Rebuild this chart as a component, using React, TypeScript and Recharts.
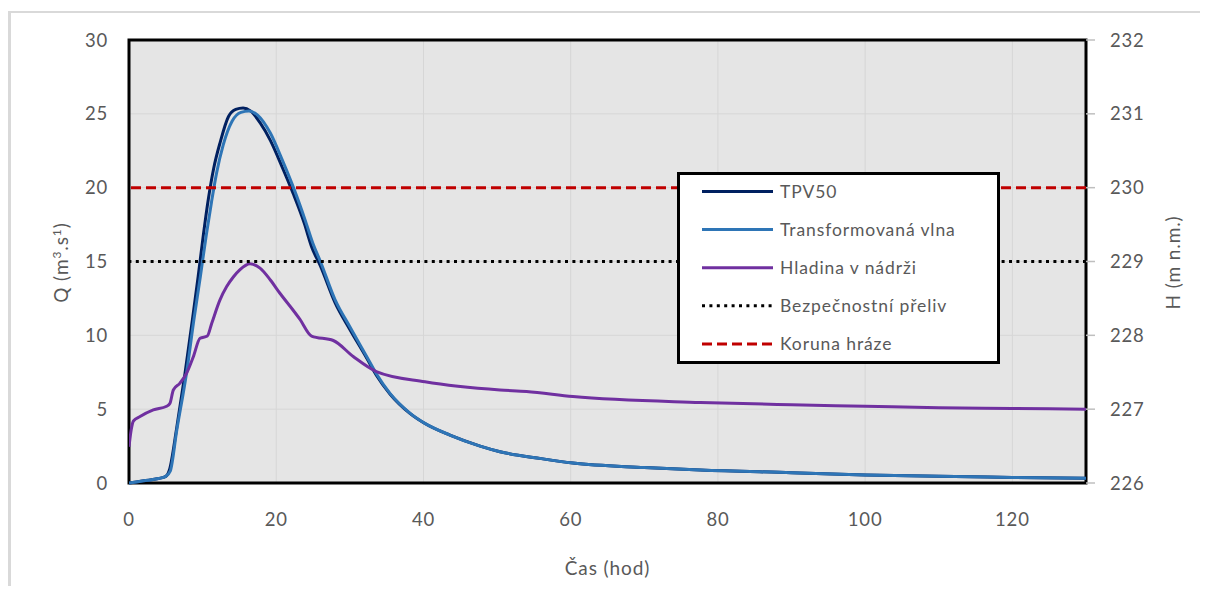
import React from 'react';
import {
  ComposedChart,
  Line,
  XAxis,
  YAxis,
  CartesianGrid,
  ReferenceLine,
  ReferenceArea,
  Legend,
} from 'recharts';

// ---------- data ----------
const tpvTime = [0, 2, 4, 5, 5.5, 6.5, 7.6, 8.6, 9.4, 10.1, 10.8, 11.5, 12.4, 13.5, 14.5, 15.5, 16.5, 17.8, 19.2, 20.8, 22.3, 23.8, 24.8, 26, 28, 30, 32.3, 33.6, 35.45, 38.2, 40.2, 43.6, 47.7, 50.4, 56, 60.3, 70, 77.6, 90, 100, 110, 120, 130];
const tpvFlow = [0, 0.15, 0.3, 0.45, 0.9, 3.8, 7.4, 11, 14, 16.8, 19.3, 21.3, 23.1, 24.8, 25.3, 25.4, 25.2, 24.4, 23.2, 21.4, 19.6, 17.6, 16, 14.7, 12.2, 10.4, 8.45, 7.3, 6.03, 4.7, 4.03, 3.24, 2.5, 2.12, 1.65, 1.35, 1.05, 0.88, 0.7, 0.55, 0.45, 0.38, 0.32];

const outTime = [0, 2, 4, 5, 5.6, 6.5, 7.8, 8.8, 9.7, 10.5, 11.2, 11.9, 12.8, 14, 15.2, 16.3, 17.5, 19.2, 20.8, 22.5, 24, 25, 26, 28, 30, 32.3, 33.6, 35.45, 38.2, 40.2, 43.6, 47.7, 50.4, 56, 60.3, 70, 77.6, 90, 100, 110, 120, 130];
const outFlow = [0, 0.15, 0.3, 0.45, 0.8, 3.6, 7.4, 11, 14, 16.8, 19, 21, 22.9, 24.5, 25.1, 25.2, 24.9, 23.7, 21.9, 19.8, 17.7, 16.2, 15, 12.4, 10.58, 8.55, 7.4, 6.07, 4.72, 4.04, 3.25, 2.5, 2.12, 1.65, 1.35, 1.05, 0.88, 0.7, 0.55, 0.45, 0.38, 0.32];

const levelTime = [0, 0.3, 0.6, 1.5, 3.3, 5.12, 5.57, 6.02, 6.9, 7.84, 8.74, 9.65, 10.64, 11.23, 12.36, 13.27, 14.17, 15.08, 16.44, 17.8, 19.2, 20.5, 22.3, 23.2, 24.8, 27.75, 30.5, 33.6, 40.2, 50.4, 54, 60.3, 77.6, 90, 100, 110, 120, 130];
const levelH = [226.49, 226.72, 226.84, 226.9, 226.99, 227.04, 227.08, 227.26, 227.35, 227.49, 227.71, 227.96, 227.99, 228.16, 228.48, 228.66, 228.79, 228.89, 228.97, 228.91, 228.75, 228.57, 228.34, 228.22, 227.99, 227.93, 227.71, 227.51, 227.37, 227.26, 227.24, 227.17, 227.09, 227.06, 227.04, 227.02, 227.01, 227.0];

const spillwayLevel = 229;
const crestLevel = 230;

const xTicks = [0, 20, 40, 60, 80, 100, 120];
const qTicks = [0, 5, 10, 15, 20, 25, 30];
const hTicks = [226, 227, 228, 229, 230, 231, 232];

const seriesNames = ['TPV50', 'Transformovaná vlna', 'Hladina v nádrži', 'Bezpečnostní přeliv', 'Koruna hráze'];

// ---------- styling ----------
const FONT = "Lato, 'Open Sans', sans-serif";
const TEXT = '#595959';
const C_TPV = '#002060';
const C_OUT = '#2e75b6';
const C_LVL = '#7030a0';
const C_SPILL = '#000000';
const C_CREST = '#c00000';
const DASH_SPILL = '3 4.4';
const DASH_CREST = '10 5';

const legendStyles = [
  { color: C_TPV, dash: undefined },
  { color: C_OUT, dash: undefined },
  { color: C_LVL, dash: undefined },
  { color: C_SPILL, dash: DASH_SPILL },
  { color: C_CREST, dash: DASH_CREST },
];

const zip = (ts: number[], vs: number[], key: string) => ts.map((t, i) => ({ t, [key]: vs[i] }));
const tpvData = zip(tpvTime, tpvFlow, 'q');
const outData = zip(outTime, outFlow, 'q');
const levelData = zip(levelTime, levelH, 'h');

const tickStyle = { fontSize: 18.5, fill: TEXT, fontFamily: FONT, letterSpacing: 0.8 };

const renderLegend = () => (
  <svg width={323} height={192} style={{ display: 'block' }}>
    <rect x={1.5} y={1.5} width={320} height={189} fill="#ffffff" stroke="#000" strokeWidth={3} />
    {seriesNames.map((name, i) => {
      const y = 19.5 + i * 38.1;
      const st = legendStyles[i];
      return (
        <g key={name}>
          <line x1={25} x2={96} y1={y} y2={y} stroke={st.color} strokeWidth={3} strokeDasharray={st.dash} />
          <text x={103} y={y} dy="0.36em" fontSize={17.5} fill={TEXT} fontFamily={FONT} letterSpacing={0.9}>
            {name}
          </text>
        </g>
      );
    })}
  </svg>
);

const LeftTitle = (props: any) => {
  const vb = props.viewBox || { x: 0, y: 32, width: 121, height: 443 };
  const cx = vb.x + 53;
  const cy = vb.y + vb.height / 2 + 1;
  return (
    <text
      x={cx}
      y={cy}
      transform={`rotate(-90 ${cx} ${cy})`}
      textAnchor="middle"
      dy="0.36em"
      fontSize={19}
      fill={TEXT}
      fontFamily={FONT}
      letterSpacing={0.9}
    >
      <tspan>Q (m</tspan>
      <tspan dy={-7} fontSize={12}>3</tspan>
      <tspan dy={7}>.s</tspan>
      <tspan dy={-7} fontSize={12}>1</tspan>
      <tspan dy={7}>)</tspan>
    </text>
  );
};

const RightTitle = (props: any) => {
  const vb = props.viewBox || { x: 1078, y: 32, width: 122, height: 443 };
  const cx = vb.x + 87;
  const cy = vb.y + vb.height / 2 + 1;
  return (
    <text
      x={cx}
      y={cy}
      transform={`rotate(-90 ${cx} ${cy})`}
      textAnchor="middle"
      dy="0.36em"
      fontSize={19}
      fill={TEXT}
      fontFamily={FONT}
      letterSpacing={0.9}
    >
      H (m n.m.)
    </text>
  );
};

const BottomTitle = (props: any) => {
  const vb = props.viewBox || { x: 121, y: 475, width: 957, height: 103 };
  return (
    <text
      x={vb.x + vb.width / 2}
      y={vb.y + 92}
      textAnchor="middle"
      fontSize={19}
      fill={TEXT}
      fontFamily={FONT}
      letterSpacing={0.9}
    >
      Čas (hod)
    </text>
  );
};

export default function App() {
  return (
    <div style={{ position: 'relative', width: 1200, height: 578, background: '#fff', overflow: 'hidden' }}>
      <div style={{ position: 'absolute', left: 0, top: 3, width: 1200, height: 2, background: '#d9d9d9' }} />
      <div style={{ position: 'absolute', left: 0, top: 3, width: 3, height: 575, background: '#d9d9d9' }} />
      <ComposedChart width={1200} height={578} margin={{ top: 32, right: 0, bottom: 0, left: 0 }}>
        <CartesianGrid
          xAxisId="x"
          yAxisId="left"
          fill="#e5e5e5"
          stroke="#d6d6d6"
          strokeWidth={1}
          vertical
          horizontal
        />
        <XAxis
          xAxisId="x"
          type="number"
          dataKey="t"
          domain={[0, 130]}
          ticks={xTicks}
          allowDataOverflow
          height={103}
          axisLine={false}
          tickLine={false}
          tickSize={0}
          tickMargin={30}
          tick={tickStyle}
          label={BottomTitle}
        />
        <YAxis
          yAxisId="left"
          orientation="left"
          domain={[0, 30]}
          ticks={qTicks}
          width={121}
          axisLine={false}
          tickLine={false}
          tickSize={0}
          tickMargin={21}
          tick={tickStyle}
          label={LeftTitle}
        />
        <YAxis
          yAxisId="right"
          orientation="right"
          domain={[226, 232]}
          ticks={hTicks}
          width={122}
          axisLine={false}
          tickLine={{ stroke: '#bfbfbf', strokeWidth: 1.5 }}
          tickSize={9}
          tickMargin={15}
          tick={tickStyle}
          label={RightTitle}
        />
        <Line
          xAxisId="x"
          yAxisId="left"
          data={tpvData}
          dataKey="q"
          name={seriesNames[0]}
          type="monotone"
          stroke={C_TPV}
          strokeWidth={3}
          dot={false}
          activeDot={false}
          isAnimationActive={false}
        />
        <Line
          xAxisId="x"
          yAxisId="left"
          data={outData}
          dataKey="q"
          name={seriesNames[1]}
          type="monotone"
          stroke={C_OUT}
          strokeWidth={3}
          dot={false}
          activeDot={false}
          isAnimationActive={false}
        />
        <Line
          xAxisId="x"
          yAxisId="right"
          data={levelData}
          dataKey="h"
          name={seriesNames[2]}
          type="monotone"
          stroke={C_LVL}
          strokeWidth={3}
          dot={false}
          activeDot={false}
          isAnimationActive={false}
        />
        <ReferenceLine
          xAxisId="x"
          yAxisId="right"
          y={spillwayLevel}
          stroke={C_SPILL}
          strokeWidth={3}
          strokeDasharray={DASH_SPILL}
        />
        <ReferenceLine
          xAxisId="x"
          yAxisId="right"
          y={crestLevel}
          stroke={C_CREST}
          strokeWidth={3}
          strokeDasharray={DASH_CREST}
        />
        <ReferenceArea
          xAxisId="x"
          yAxisId="left"
          x1={0}
          x2={130}
          y1={0}
          y2={30}
          fill="none"
          fillOpacity={0}
          stroke="#000"
          strokeWidth={3}
          ifOverflow="visible"
        />
        <Legend
          layout="vertical"
          align="center"
          verticalAlign="middle"
          content={renderLegend}
          wrapperStyle={{ left: 669, top: 164, width: 323, height: 192 }}
        />
      </ComposedChart>
    </div>
  );
}
